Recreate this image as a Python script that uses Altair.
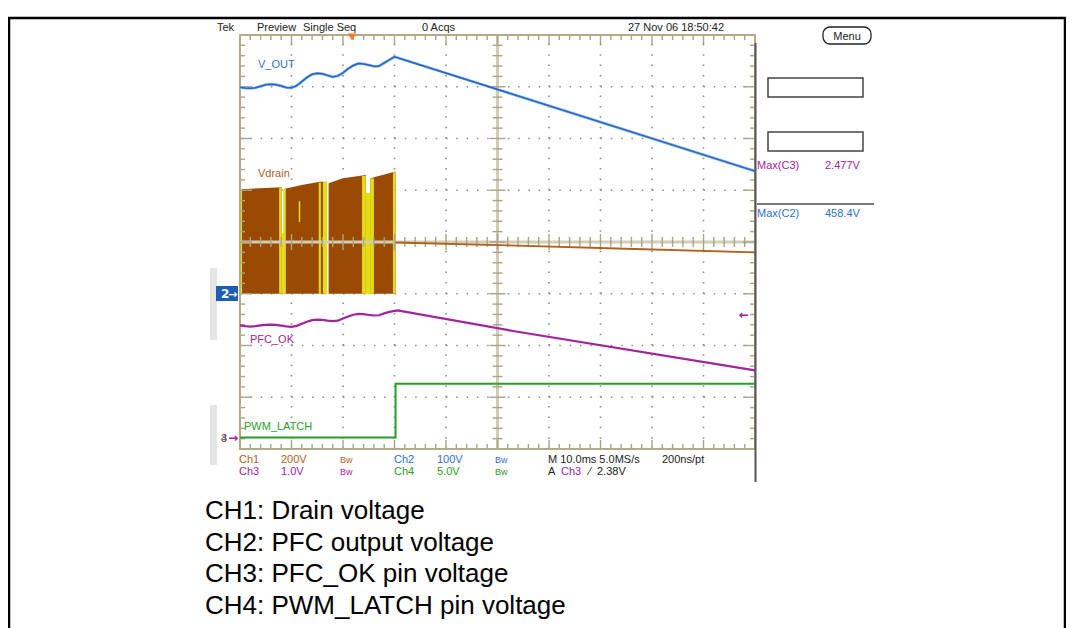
import altair as alt
import pandas as pd

# ---------------- chart values ----------------
# time axis: 10 ms/div, 10 divisions -> 0..100 ms ; vertical: 8 divisions
# channel scales (per div) and ground offsets (in divisions from centre)
ch_scale = {"ch1": 200.0, "ch2": 100.0, "ch3": 1.0, "ch4": 5.0}
ch_offset = {"ch1": -1.0, "ch2": -1.0, "ch3": -3.79, "ch4": -3.78}

# CH2  V_OUT (V)
vout_t = [0, 1, 2, 3, 4, 5, 6, 7, 8, 9, 10, 11, 12, 13, 14, 15, 16, 17, 18, 19, 20,
          21, 22, 23, 24, 25, 26, 27, 28, 29, 30, 100]
vout_v = [399, 397.5, 397, 398, 401, 404, 405, 404, 401.5, 398.5, 398, 402, 410, 418, 424, 426, 425, 422, 419, 421, 427,
          435, 441, 445, 444, 442, 439.5, 440, 446, 452, 458, 237]

# CH3  PFC_OK (V)
pfc_t = [0, 1, 2, 3, 4, 5, 6, 7, 8, 9, 10, 11, 12, 13, 14, 15, 16, 17, 18, 19, 20,
         21, 22, 23, 24, 25, 26, 27, 28, 29, 30.6, 53, 100]
pfc_v = [2.18, 2.165, 2.155, 2.165, 2.18, 2.19, 2.195, 2.19, 2.175, 2.16, 2.15, 2.17, 2.21, 2.25, 2.28, 2.29, 2.285,
         2.27, 2.26, 2.27, 2.31, 2.35, 2.385, 2.40, 2.395, 2.38, 2.37, 2.375, 2.41, 2.44, 2.47, 2.07, 1.31]

# CH4  PWM_LATCH (V)
pwm_t = [0, 30.2, 30.2, 100]
pwm_v = [0, 0, 5.2, 5.2]

# CH1  Vdrain switching envelope (V), four bursts
vd_seg = [1, 1, 2, 2, 2, 2, 3, 3, 3, 4, 4]
vd_t = [0, 8.1, 8.5, 12, 15.5, 16.9, 17.2, 20, 24.4, 25.3, 30.2]
vd_top = [404, 412, 405, 420, 433, 433, 427, 446, 459, 446, 472]

# CH1 bright (yellow) persistence stripes
st_t0 = [0, 7.6, 8.1, 8.5, 11.4, 15.3, 16.1, 23.7, 24.4, 25.3, 29.7]
st_t1 = [0.4, 8.1, 8.5, 8.9, 11.7, 15.7, 16.9, 24.4, 25.3, 26.0, 30.2]
st_top = [404, 410, 235, 405, 358, 430, 433, 455, 389, 446, 470]
st_bot = [0, 0, 0, 0, 277, 0, 0, 0, 0, 0, 0]

# CH1 after switching stops (V)
vdl_t = [30.2, 50, 75, 100]
vdl_v = [198, 188, 174, 160]

# ---------------- geometry ----------------
W, H = 515, 414
PX_T = W / 100.0
PX_D = H / 8.0
OX, OY = 240, 35  # page position of plot origin

xs = alt.Scale(domain=[0, 100], nice=False, zero=False)
ys = alt.Scale(domain=[-4, 4], nice=False, zero=False)

BROWN = "#9a4a02"
YELLOW = "#e4dc14"
BLUE = "#2566c4"
MAG = "#a3229f"
GREEN = "#2a9e2a"
GRIDC = "#b3ab87"
CROSS = "#d2cdb6"
TICKC = "#aaa384"
SCOPEFONT = "Liberation Sans Narrow, Liberation Sans, sans-serif"


def to_div(vals, ch):
    return [v / ch_scale[ch] + ch_offset[ch] for v in vals]


def X(f):
    return alt.X(f, scale=xs, axis=None)


def Y(f):
    return alt.Y(f, scale=ys, axis=None)


layers = []

# ---- dotted grid ----
gv = pd.DataFrame({"t": [10, 20, 30, 40, 60, 70, 80, 90], "a": -4.0, "b": 4.0})
gh = pd.DataFrame({"y": [-3, -2, -1, 1, 2, 3], "a": 0.0, "b": 100.0})
layers.append(alt.Chart(gv).mark_rule(color="#8a8a8a", strokeWidth=1.6, strokeDash=[1.5, PX_D / 5 - 1.5]).encode(
    x=X("t:Q"), y=Y("a:Q"), y2="b:Q"))
layers.append(alt.Chart(gh).mark_rule(color="#8a8a8a", strokeWidth=1.6, strokeDash=[1.5, PX_T * 2 - 1.5]).encode(
    y=Y("y:Q"), x=X("a:Q"), x2="b:Q"))

# ---- Vdrain burst block ----
vd = pd.DataFrame({"t": vd_t, "y": to_div(vd_top, "ch1"), "y0": ch_offset["ch1"], "seg": vd_seg})
layers.append(alt.Chart(vd).mark_area(color=BROWN, opacity=1).encode(
    x=X("t:Q"), y=Y("y:Q"), y2="y0:Q", detail="seg:N"))
st = pd.DataFrame({"t0": st_t0, "t1": st_t1, "a": to_div(st_top, "ch1"), "b": to_div(st_bot, "ch1")})
layers.append(alt.Chart(st).mark_rect(color=YELLOW).encode(
    x=X("t0:Q"), x2="t1:Q", y=Y("a:Q"), y2="b:Q"))

# ---- centre cross-hair ----
layers.append(alt.Chart(pd.DataFrame({"y": [0.0], "a": [0.0], "b": [100.0]})).mark_rule(
    color=CROSS, strokeWidth=3).encode(y=Y("y:Q"), x=X("a:Q"), x2="b:Q"))
layers.append(alt.Chart(pd.DataFrame({"t": [50.0], "a": [-4.0], "b": [4.0]})).mark_rule(
    color=CROSS, strokeWidth=3).encode(x=X("t:Q"), y=Y("a:Q"), y2="b:Q"))

ticks = []
for k in range(0, 51):
    t = 2 * k
    major = (t % 10 == 0)
    h = (8 if major else 5) / PX_D
    ticks.append((t, t, -h, h))
    L = (9 if major else 5) / PX_D
    ticks.append((t, t, 4, 4 - L))
    ticks.append((t, t, -4, -4 + L))
for k in range(0, 41):
    y = -4 + 0.2 * k
    major = (k % 5 == 0)
    h = (8 if major else 5) / PX_T
    ticks.append((50 - h, 50 + h, y, y))
    L = (12 if major else 5) / PX_T
    ticks.append((0, L, y, y))
    ticks.append((100, 100 - L, y, y))
tk = pd.DataFrame(ticks, columns=["a", "b", "c", "d"])
layers.append(alt.Chart(tk).mark_rule(color=TICKC, strokeWidth=1.4).encode(
    x=X("a:Q"), x2="b:Q", y=Y("c:Q"), y2="d:Q"))

# border
layers.append(alt.Chart(pd.DataFrame({"a": [0.0], "b": [100.0], "c": [-4.0], "d": [4.0]})).mark_rect(
    fill=None, stroke=GRIDC, strokeWidth=2).encode(x=X("a:Q"), x2="b:Q", y=Y("c:Q"), y2="d:Q"))

# ---- traces ----
vdl = pd.DataFrame({"t": vdl_t, "y": to_div(vdl_v, "ch1")})
layers.append(alt.Chart(vdl).mark_line(color="#b0601c", strokeWidth=1.8).encode(x=X("t:Q"), y=Y("y:Q")))
vo = pd.DataFrame({"t": vout_t, "y": to_div(vout_v, "ch2")})
layers.append(alt.Chart(vo).mark_line(color="#86b6ec", strokeWidth=2.8).encode(x=X("t:Q"), y=Y("y:Q")))
layers.append(alt.Chart(vo).mark_line(color=BLUE, strokeWidth=1.5).encode(x=X("t:Q"), y=Y("y:Q")))
pf = pd.DataFrame({"t": pfc_t, "y": to_div(pfc_v, "ch3")})
layers.append(alt.Chart(pf).mark_line(color=MAG, strokeWidth=2.2).encode(x=X("t:Q"), y=Y("y:Q")))
pw = pd.DataFrame({"t": pwm_t, "y": to_div(pwm_v, "ch4")})
layers.append(alt.Chart(pw).mark_line(color=GREEN, strokeWidth=2).encode(x=X("t:Q"), y=Y("y:Q")))


# ---------------- screen chrome (page pixel coordinates) ----------------
def P(x, y):
    return x - OX, y - OY


def rect_layer(rows, **kw):
    df = pd.DataFrame([(a - OX, b - OX, c - OY, d - OY) for a, b, c, d in rows], columns=["a", "b", "c", "d"])
    return alt.Chart(df).mark_rect(**kw).encode(
        x=alt.X("a:Q", scale=None, axis=None), x2="b:Q",
        y=alt.Y("c:Q", scale=None, axis=None), y2="d:Q")


def rule_layer(rows, **kw):
    df = pd.DataFrame([(a - OX, b - OX, c - OY, d - OY) for a, b, c, d in rows], columns=["a", "b", "c", "d"])
    return alt.Chart(df).mark_rule(**kw).encode(
        x=alt.X("a:Q", scale=None, axis=None), x2="b:Q",
        y=alt.Y("c:Q", scale=None, axis=None), y2="d:Q")


def text_layer(rows, font=SCOPEFONT, align="left", weight="normal"):
    df = pd.DataFrame([(x - OX, y - OY, s, c, z) for x, y, s, c, z in rows],
                      columns=["px", "py", "text", "color", "size"])
    return alt.Chart(df).mark_text(align=align, baseline="alphabetic", font=font, fontWeight=weight).encode(
        x=alt.X("px:Q", scale=None, axis=None),
        y=alt.Y("py:Q", scale=None, axis=None),
        text="text:N",
        color=alt.Color("color:N", scale=None),
        size=alt.Size("size:Q", scale=None),
    )


# outer figure frame
layers.append(rect_layer([(9, 1065, 18, 660)], fill=None, stroke="black", strokeWidth=2.5))
# left side grey bars
layers.append(rect_layer([(210, 217, 268, 340), (210, 217, 405, 465)], color="#e6e6e6"))
# right edge of scope screen
layers.append(rule_layer([(755.5, 755.5, 43, 482)], color="#555555", strokeWidth=2))
# measurement boxes and separator
layers.append(rect_layer([(768, 863, 78, 97), (768, 863, 132, 151)], fill="white", stroke="#444444", strokeWidth=1.5))
layers.append(rule_layer([(757, 874, 204, 204)], color="#777777", strokeWidth=2))
# menu button
layers.append(rect_layer([(823, 871, 27, 44)], fill="white", stroke="#222222", strokeWidth=1.3, cornerRadius=7))
# channel 2 ground marker box
layers.append(rect_layer([(216, 238, 286, 301)], color="#1c5db8"))
# trigger position marker
tx, ty = P(352, 37)
layers.append(alt.Chart(pd.DataFrame({"px": [tx], "py": [ty]})).mark_point(
    shape="triangle-down", filled=True, size=70, color="#ff7a22", opacity=1).encode(
    x=alt.X("px:Q", scale=None, axis=None), y=alt.Y("py:Q", scale=None, axis=None)))

DK = "#222222"
C1T = "#b0601c"
C2T = "#2f6fd0"
layers.append(text_layer([
    (217, 31, "Tek", DK, 11),
    (257, 31, "Preview", DK, 11),
    (303, 31, "Single Seq", DK, 11),
    (422, 31, "0 Acqs", DK, 11),
    (628, 31, "27 Nov 06 18:50:42", DK, 11),
    (258, 68, "V_OUT", C2T, 11),
    (258, 177, "Vdrain", C1T, 11),
    (250, 343, "PFC_OK", MAG, 11),
    (244, 430, "PWM_LATCH", GREEN, 11),
    (239, 463, "Ch1", C1T, 11), (281, 463, "200V", C1T, 11), (340, 463, "Bw", C1T, 9),
    (394, 463, "Ch2", C2T, 11), (437, 463, "100V", C2T, 11), (495, 463, "Bw", C2T, 9),
    (548, 463, "M 10.0ms 5.0MS/s", DK, 11), (662, 463, "200ns/pt", DK, 11),
    (239, 475, "Ch3", MAG, 11), (281, 475, "1.0V", MAG, 11), (340, 475, "Bw", MAG, 9),
    (394, 475, "Ch4", GREEN, 11), (437, 475, "5.0V", GREEN, 11), (495, 475, "Bw", GREEN, 9),
    (548, 475, "A", DK, 11), (561, 475, "Ch3", MAG, 11), (589, 475, "\u2044", DK, 11), (597, 475, "2.38V", DK, 11),
    (757, 169, "Max(C3)", MAG, 11), (825, 169, "2.477V", MAG, 11),
    (757, 217, "Max(C2)", C2T, 11), (825, 217, "458.4V", C2T, 11),
    (221, 442, "4", GREEN, 11), (221, 442, "3", MAG, 11),
]))
layers.append(text_layer([
    (228, 442, "\u2192", MAG, 12),
    (739, 319, "\u2190", MAG, 12),
    (221, 298, "2", "white", 12),
    (228, 298, "\u2192", "white", 11),
], font="DejaVu Sans, sans-serif", weight="bold"))
layers.append(text_layer([(847, 40, "Menu", DK, 11)], align="center"))
layers.append(text_layer([
    (205, 519, "CH1: Drain voltage", "black", 26),
    (205, 551, "CH2: PFC output voltage", "black", 26),
    (205, 582, "CH3: PFC_OK pin voltage", "black", 26),
    (205, 614, "CH4: PWM_LATCH pin voltage", "black", 26),
], font="Liberation Sans, Arial, sans-serif"))

chart = alt.layer(*layers).resolve_scale(x="independent", y="independent", color="independent", size="independent").properties(
    width=W, height=H,
    autosize=alt.AutoSizeParams(type="none"),
    padding={"left": OX - 8, "top": OY - 8, "right": 1058 - (OX - 8) - W, "bottom": 620 - (OY - 8) - H},
    background="white",
).configure_view(stroke=None)

chart.save("out.html", embed_options={"renderer": "svg", "actions": False})
